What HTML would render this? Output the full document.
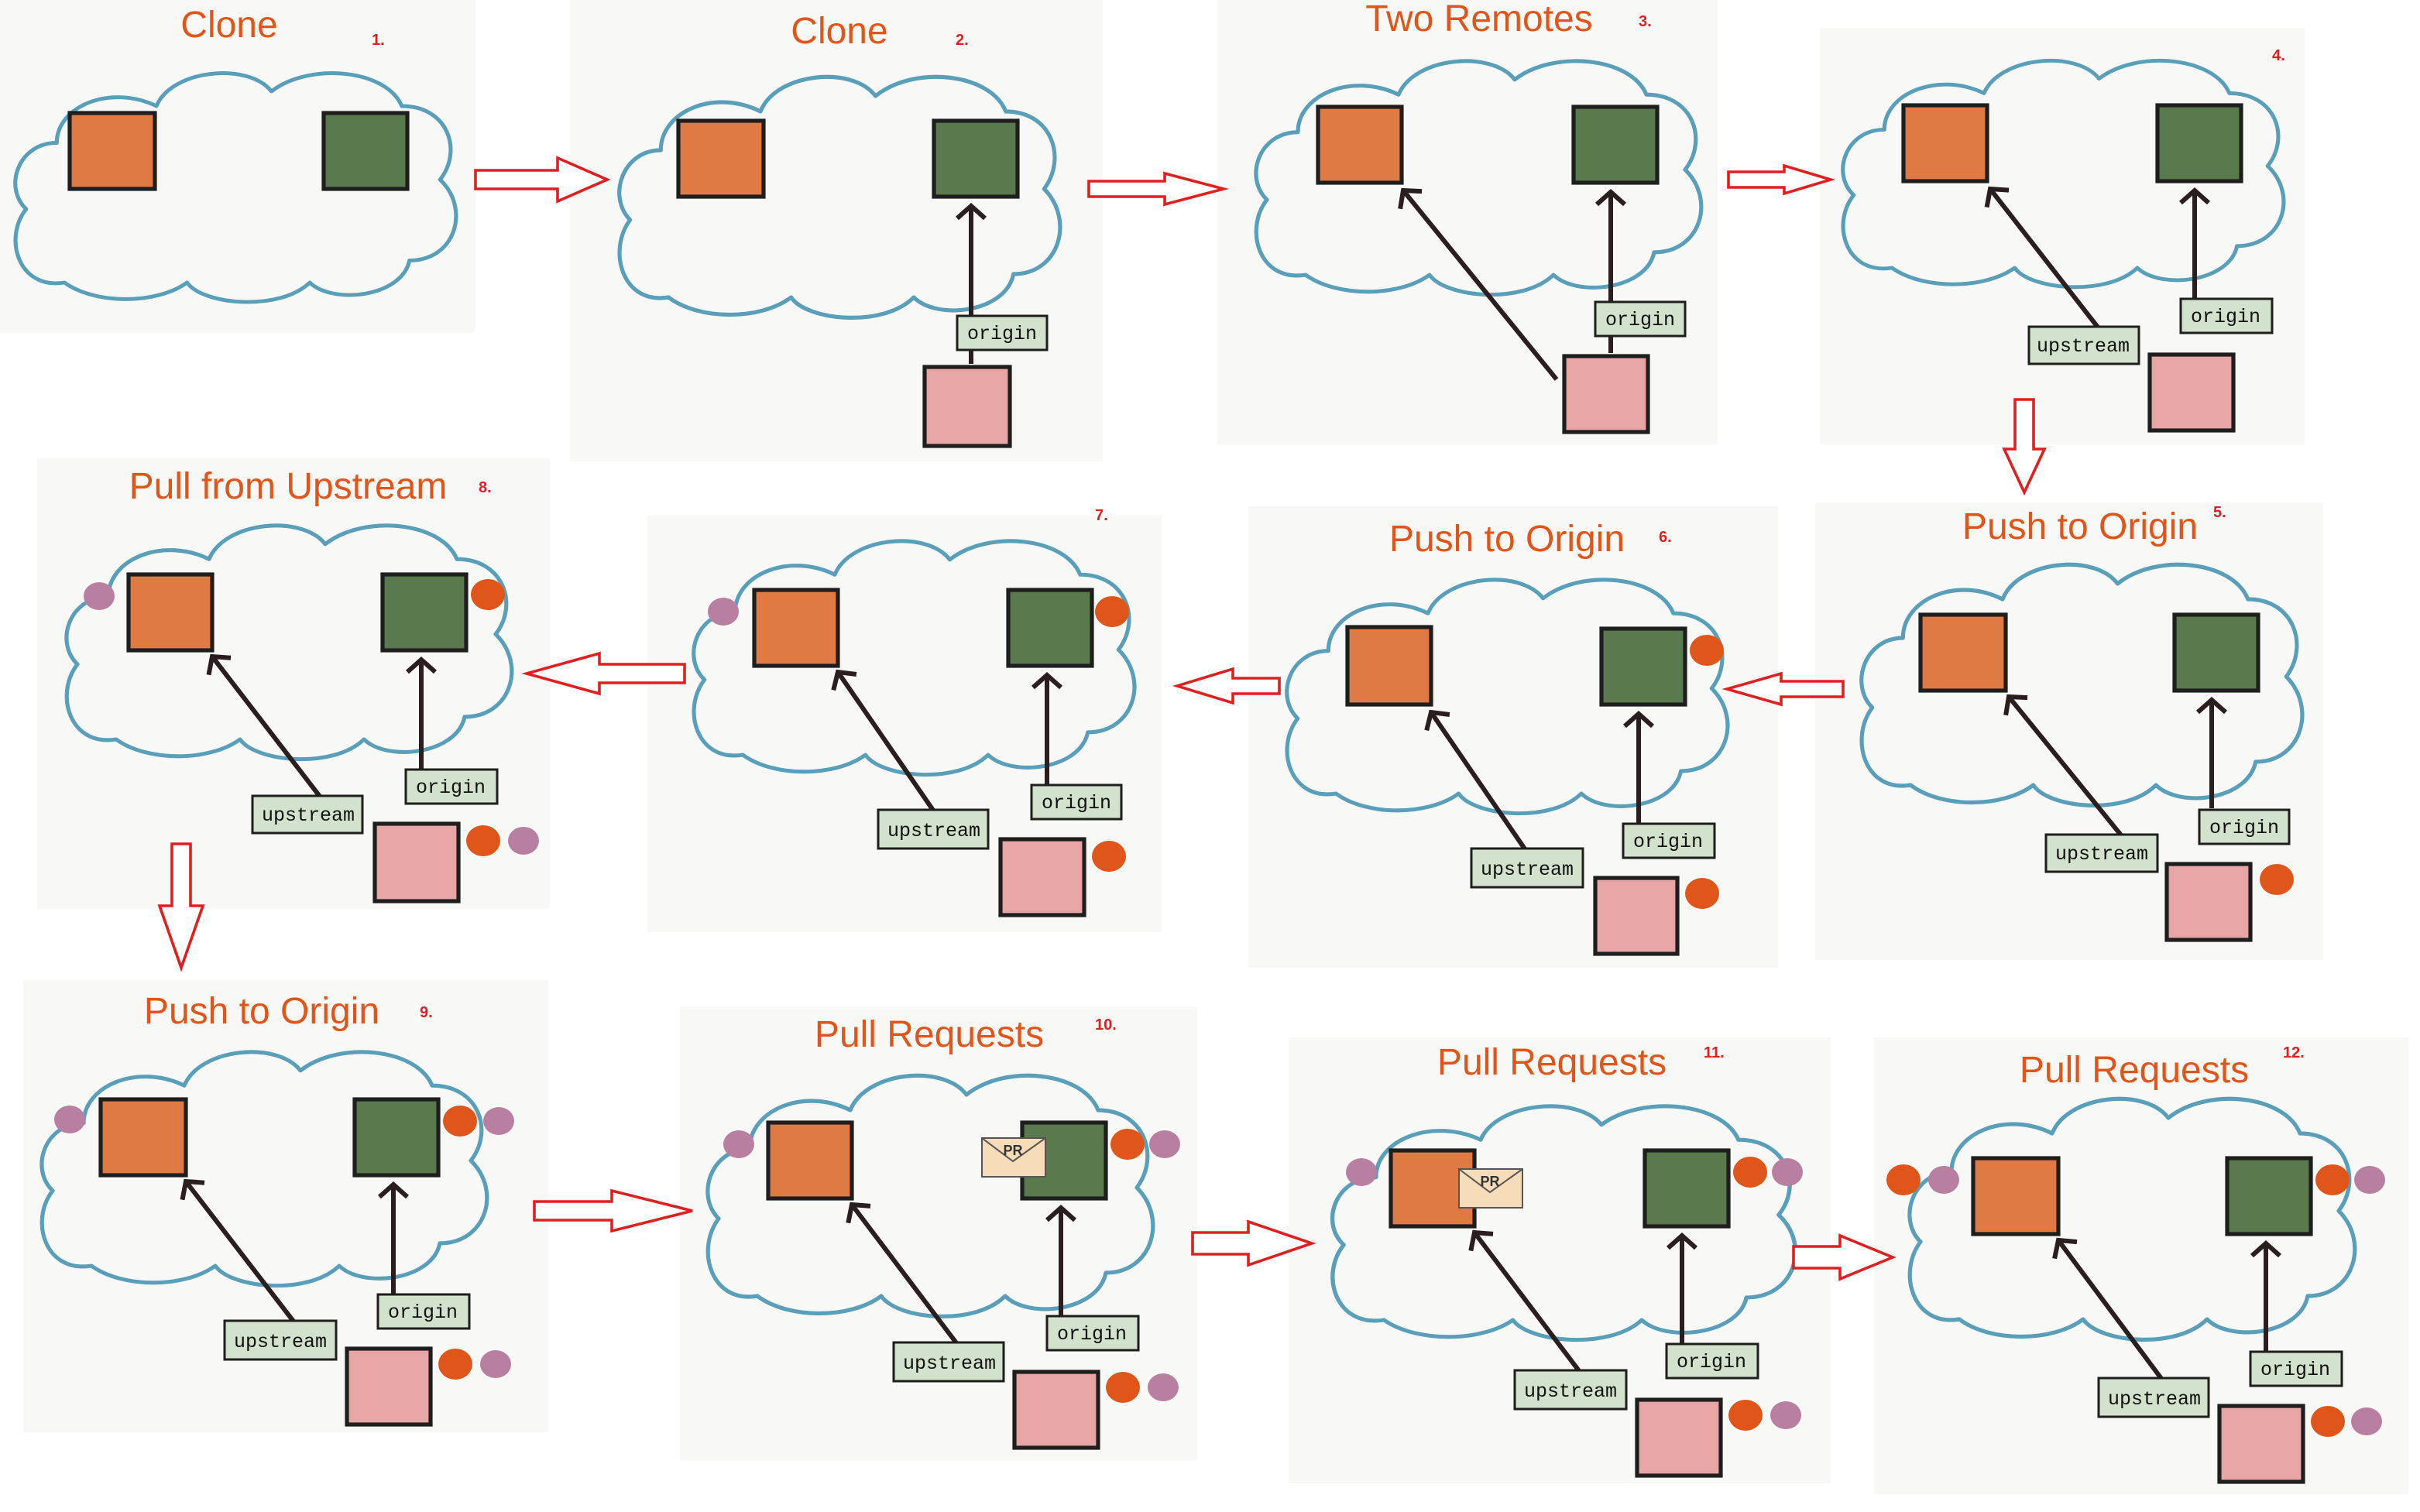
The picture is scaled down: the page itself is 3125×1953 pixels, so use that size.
<!DOCTYPE html>
<html><head><meta charset="utf-8"><style>
html,body{margin:0;padding:0;background:#fff;width:3125px;height:1953px;overflow:hidden}
svg{display:block}
.bg{fill:#f8f8f6}
.t{font-family:"Liberation Sans",sans-serif;font-size:24px;fill:#e0561a;text-anchor:middle}
.n{font-family:"Liberation Sans",sans-serif;font-size:10px;fill:#e02020;font-weight:bold}
.cl{fill:none;stroke:#5a9fba;stroke-width:2.6;stroke-linejoin:round}
.o{fill:#e07a45;stroke:#1e1e1e;stroke-width:2.6}
.g{fill:#5a7a4e;stroke:#1e1e1e;stroke-width:2.6}
.p{fill:#e8a5a5;stroke:#1e1e1e;stroke-width:2.6}
.ar{stroke:#2a1e1e;stroke-width:3;fill:none;marker-end:url(#ah)}
.lb{fill:#d2e2cc;stroke:#1e1e1e;stroke-width:1.5}
.lt{font-family:"Liberation Mono",monospace;font-size:12.5px;fill:#111;text-anchor:middle}
.ra{fill:#fff;stroke:#e02020;stroke-width:1.8}
.od{fill:#e0561a}.pd{fill:#b87fa0}
.env{fill:#f6dcb8;stroke:#555;stroke-width:1}
.pr{font-family:"Liberation Sans",sans-serif;font-size:9px;font-weight:bold;fill:#333;text-anchor:middle}
</style></head><body>
<svg width="3125" height="1953" viewBox="0 0 1562.5 976.5" xmlns="http://www.w3.org/2000/svg">
<defs>
<path id="cloud" d="M40,150 C10,155 0,120 15,100 C0,85 10,55 35,55 C35,30 70,15 100,30 C110,5 160,0 175,20 C200,0 250,5 260,30 C290,30 300,60 285,80 C305,100 295,135 265,135 C260,160 215,165 200,150 C180,170 130,165 120,150 C100,165 60,165 40,150 Z"/>
<marker id="ah" markerWidth="8" markerHeight="8" refX="4" refY="4" orient="auto" markerUnits="userSpaceOnUse" viewBox="0 0 8 8">
<polyline points="0,0 4,4 0,8" fill="none" stroke="#2a1e1e" stroke-width="1.2"/>
</marker>
<marker id="ah2" markerWidth="22" markerHeight="22" refX="11" refY="11" orient="auto" markerUnits="userSpaceOnUse">
<polyline points="3,2 11,11 3,20" fill="none" stroke="#2a1e1e" stroke-width="3"/>
</marker>
</defs>
<style>.ar{marker-end:url(#ah2)}</style>

<!-- Panel 1 -->
<rect class="bg" x="0" y="0" width="307" height="215"/>
<text class="t" x="148" y="24">Clone</text><text class="n" x="240" y="29">1.</text>
<use href="#cloud" class="cl" transform="translate(2,40) scale(0.99,0.95)"/>
<rect class="o" x="45" y="73" width="55" height="49"/>
<rect class="g" x="209" y="73" width="54" height="49"/>

<!-- Panel 2 -->
<rect class="bg" x="368" y="0" width="344" height="298"/>
<text class="t" x="542" y="28">Clone</text><text class="n" x="617" y="29">2.</text>
<use href="#cloud" class="cl" transform="translate(392,42) scale(0.99,1)"/>
<rect class="o" x="438" y="78" width="55" height="49"/>
<rect class="g" x="603" y="78" width="54" height="49"/>
<line class="ar" x1="627" y1="235" x2="627" y2="133"/>
<rect class="lb" x="618" y="204" width="58" height="22"/><text class="lt" x="647" y="219">origin</text>
<rect class="p" x="597" y="237" width="55" height="51"/>

<!-- Panel 3 -->
<rect class="bg" x="786" y="0" width="323" height="287"/>
<text class="t" x="955" y="20">Two Remotes</text><text class="n" x="1058" y="17">3.</text>
<use href="#cloud" class="cl" transform="translate(803,32) scale(1,0.97)"/>
<rect class="o" x="851" y="69" width="54" height="49"/>
<rect class="g" x="1016" y="69" width="54" height="49"/>
<line class="ar" x1="1040" y1="228" x2="1040" y2="124"/>
<line class="ar" x1="1005" y1="245" x2="906" y2="123"/>
<rect class="lb" x="1030" y="195" width="58" height="22"/><text class="lt" x="1059" y="210">origin</text>
<rect class="p" x="1010" y="230" width="54" height="49"/>

<!-- Panel 4 -->
<rect class="bg" x="1175" y="18" width="313" height="269"/>
<text class="n" x="1467" y="39">4.</text>
<use href="#cloud" class="cl" transform="translate(1182,32) scale(0.99,0.94)"/>
<rect class="o" x="1229" y="68" width="54" height="49"/>
<rect class="g" x="1393" y="68" width="54" height="49"/>
<line class="ar" x1="1417" y1="196" x2="1417" y2="123"/>
<line class="ar" x1="1355" y1="212" x2="1285" y2="122"/>
<rect class="lb" x="1408" y="193" width="59" height="22"/><text class="lt" x="1437" y="208">origin</text>
<rect class="lb" x="1310" y="211" width="71" height="24"/><text class="lt" x="1345" y="227">upstream</text>
<rect class="p" x="1388" y="229" width="54" height="49"/>

<!-- Panel 5 -->
<rect class="bg" x="1172" y="325" width="328" height="295"/>
<text class="t" x="1343" y="348">Push to Origin</text><text class="n" x="1429" y="334">5.</text>
<use href="#cloud" class="cl" transform="translate(1194,357) scale(0.99,1)"/>
<rect class="o" x="1240" y="397" width="55" height="49"/>
<rect class="g" x="1404" y="397" width="54" height="49"/>
<line class="ar" x1="1428" y1="522" x2="1428" y2="452"/>
<line class="ar" x1="1370" y1="540" x2="1297" y2="450"/>
<rect class="lb" x="1420" y="523" width="58" height="22"/><text class="lt" x="1449" y="538">origin</text>
<rect class="lb" x="1321" y="539" width="72" height="24"/><text class="lt" x="1357" y="555">upstream</text>
<rect class="p" x="1399" y="558" width="54" height="49"/>
<ellipse class="od" cx="1470" cy="568" rx="11" ry="10"/>

<!-- Panel 6 -->
<rect class="bg" x="806" y="327" width="342" height="298"/>
<text class="t" x="973" y="356">Push to Origin</text><text class="n" x="1071" y="350">6.</text>
<use href="#cloud" class="cl" transform="translate(823,367) scale(0.99,0.97)"/>
<rect class="o" x="870" y="405" width="54" height="50"/>
<rect class="g" x="1034" y="406" width="54" height="49"/>
<ellipse class="od" cx="1102" cy="420" rx="11" ry="10"/>
<line class="ar" x1="1058" y1="534" x2="1058" y2="461"/>
<line class="ar" x1="985" y1="549" x2="924" y2="460"/>
<rect class="lb" x="1048" y="532" width="59" height="22"/><text class="lt" x="1077" y="547">origin</text>
<rect class="lb" x="950" y="548" width="72" height="25"/><text class="lt" x="986" y="565">upstream</text>
<rect class="p" x="1030" y="567" width="53" height="49"/>
<ellipse class="od" cx="1099" cy="577" rx="11" ry="10"/>

<!-- Panel 7 -->
<rect class="bg" x="418" y="333" width="332" height="269"/>
<text class="n" x="707" y="336">7.</text>
<use href="#cloud" class="cl" transform="translate(440,342) scale(0.99,0.97)"/>
<ellipse class="pd" cx="467" cy="395" rx="10" ry="9"/>
<rect class="o" x="487" y="381" width="54" height="49"/>
<rect class="g" x="651" y="381" width="54" height="49"/>
<ellipse class="od" cx="718" cy="395" rx="11" ry="10"/>
<line class="ar" x1="676" y1="509" x2="676" y2="436"/>
<line class="ar" x1="603" y1="524" x2="541" y2="434"/>
<rect class="lb" x="666" y="507" width="58" height="22"/><text class="lt" x="695" y="522">origin</text>
<rect class="lb" x="567" y="523" width="71" height="25"/><text class="lt" x="603" y="540">upstream</text>
<rect class="p" x="646" y="542" width="54" height="49"/>
<ellipse class="od" cx="716" cy="553" rx="11" ry="10"/>

<!-- Panel 8 -->
<rect class="bg" x="24" y="296" width="331" height="291"/>
<text class="t" x="186" y="322">Pull from Upstream</text><text class="n" x="309" y="318">8.</text>
<use href="#cloud" class="cl" transform="translate(35,332) scale(1,0.97)"/>
<ellipse class="pd" cx="64" cy="385" rx="10" ry="9"/>
<rect class="o" x="83" y="371" width="54" height="49"/>
<rect class="g" x="247" y="371" width="54" height="49"/>
<ellipse class="od" cx="315" cy="384" rx="11" ry="10"/>
<line class="ar" x1="272" y1="499" x2="272" y2="426"/>
<line class="ar" x1="207" y1="515" x2="137" y2="424"/>
<rect class="lb" x="262" y="497" width="59" height="22"/><text class="lt" x="291" y="512">origin</text>
<rect class="lb" x="163" y="514" width="71" height="24"/><text class="lt" x="199" y="530">upstream</text>
<rect class="p" x="242" y="532" width="54" height="50"/>
<ellipse class="od" cx="312" cy="543" rx="11" ry="10"/>
<ellipse class="pd" cx="338" cy="543" rx="10" ry="9"/>

<!-- Panel 9 -->
<rect class="bg" x="15" y="633" width="339" height="292"/>
<text class="t" x="169" y="661">Push to Origin</text><text class="n" x="271" y="657">9.</text>
<use href="#cloud" class="cl" transform="translate(19,672) scale(1,0.97)"/>
<ellipse class="pd" cx="45" cy="723" rx="10" ry="9"/>
<rect class="o" x="65" y="710" width="55" height="49"/>
<rect class="g" x="229" y="710" width="54" height="49"/>
<ellipse class="od" cx="297" cy="724" rx="11" ry="10"/>
<ellipse class="pd" cx="322" cy="724" rx="10" ry="9"/>
<line class="ar" x1="254" y1="838" x2="254" y2="765"/>
<line class="ar" x1="190" y1="854" x2="120" y2="763"/>
<rect class="lb" x="244" y="836" width="59" height="22"/><text class="lt" x="273" y="851">origin</text>
<rect class="lb" x="145" y="853" width="72" height="25"/><text class="lt" x="181" y="870">upstream</text>
<rect class="p" x="224" y="871" width="54" height="49"/>
<ellipse class="od" cx="294" cy="881" rx="11" ry="10"/>
<ellipse class="pd" cx="320" cy="881" rx="10" ry="9"/>

<!-- Panel 10 -->
<rect class="bg" x="439" y="650" width="334" height="293"/>
<text class="t" x="600" y="676">Pull Requests</text><text class="n" x="707" y="665">10.</text>
<use href="#cloud" class="cl" transform="translate(449,687) scale(1,1)"/>
<ellipse class="pd" cx="477" cy="739" rx="10" ry="9"/>
<rect class="o" x="496" y="725" width="54" height="49"/>
<rect class="g" x="660" y="725" width="54" height="49"/>
<rect class="env" x="634" y="735" width="41" height="25"/><polyline points="634,735 654,750 675,735" fill="none" stroke="#555"/><text class="pr" x="654" y="746">PR</text>
<ellipse class="od" cx="728" cy="739" rx="11" ry="10"/>
<ellipse class="pd" cx="752" cy="739" rx="10" ry="9"/>
<line class="ar" x1="685" y1="852" x2="685" y2="780"/>
<line class="ar" x1="618" y1="868" x2="550" y2="778"/>
<rect class="lb" x="676" y="850" width="59" height="22"/><text class="lt" x="705" y="865">origin</text>
<rect class="lb" x="577" y="867" width="71" height="25"/><text class="lt" x="613" y="884">upstream</text>
<rect class="p" x="655" y="886" width="54" height="49"/>
<ellipse class="od" cx="725" cy="896" rx="11" ry="10"/>
<ellipse class="pd" cx="751" cy="896" rx="10" ry="9"/>

<!-- Panel 11 -->
<rect class="bg" x="832" y="670" width="350" height="288"/>
<text class="t" x="1002" y="694">Pull Requests</text><text class="n" x="1100" y="683">11.</text>
<use href="#cloud" class="cl" transform="translate(852,707) scale(1.04,0.97)"/>
<ellipse class="pd" cx="879" cy="757" rx="10" ry="9"/>
<rect class="o" x="898" y="743" width="54" height="49"/>
<rect class="env" x="942" y="755" width="41" height="25"/><polyline points="942,755 962,770 983,755" fill="none" stroke="#555"/><text class="pr" x="962" y="766">PR</text>
<rect class="g" x="1062" y="743" width="54" height="49"/>
<ellipse class="od" cx="1130" cy="757" rx="11" ry="10"/>
<ellipse class="pd" cx="1154" cy="757" rx="10" ry="9"/>
<line class="ar" x1="1086" y1="870" x2="1086" y2="798"/>
<line class="ar" x1="1020" y1="886" x2="952" y2="796"/>
<rect class="lb" x="1076" y="868" width="59" height="22"/><text class="lt" x="1105" y="883">origin</text>
<rect class="lb" x="978" y="885" width="72" height="25"/><text class="lt" x="1014" y="902">upstream</text>
<rect class="p" x="1057" y="904" width="54" height="49"/>
<ellipse class="od" cx="1127" cy="914" rx="11" ry="10"/>
<ellipse class="pd" cx="1153" cy="914" rx="10" ry="9"/>

<!-- Panel 12 -->
<rect class="bg" x="1210" y="670" width="345" height="295"/>
<text class="t" x="1378" y="699">Pull Requests</text><text class="n" x="1474" y="683">12.</text>
<use href="#cloud" class="cl" transform="translate(1225,702) scale(1,1)"/>
<ellipse class="od" cx="1229" cy="762" rx="11" ry="10"/>
<ellipse class="pd" cx="1255" cy="762" rx="10" ry="9"/>
<rect class="o" x="1274" y="748" width="55" height="49"/>
<rect class="g" x="1438" y="748" width="54" height="49"/>
<ellipse class="od" cx="1506" cy="762" rx="11" ry="10"/>
<ellipse class="pd" cx="1530" cy="762" rx="10" ry="9"/>
<line class="ar" x1="1463" y1="875" x2="1463" y2="803"/>
<line class="ar" x1="1396" y1="891" x2="1329" y2="801"/>
<rect class="lb" x="1453" y="873" width="59" height="22"/><text class="lt" x="1482" y="888">origin</text>
<rect class="lb" x="1355" y="890" width="71" height="25"/><text class="lt" x="1391" y="907">upstream</text>
<rect class="p" x="1433" y="908" width="54" height="49"/>
<ellipse class="od" cx="1503" cy="918" rx="11" ry="10"/>
<ellipse class="pd" cx="1528" cy="918" rx="10" ry="9"/>

<!-- Red hollow arrows -->
<polygon class="ra" points="307,110 360,110 360,102 392,116 360,130 360,122 307,122"/>
<polygon class="ra" points="703,117 752,117 752,112 790,122 752,132 752,127 703,127"/>
<polygon class="ra" points="1116,111 1152,111 1152,107 1182,116 1152,125 1152,121 1116,121"/>
<polygon class="ra" points="1301,258 1313,258 1313,290 1320,290 1307,318 1294,290 1301,290"/>
<polygon class="ra" points="1190,440 1150,440 1150,435 1115,445 1150,455 1150,450 1190,450"/>
<polygon class="ra" points="826,438 796,438 796,432 760,443 796,454 796,448 826,448"/>
<polygon class="ra" points="442,429 387,429 387,422 340,435 387,448 387,441 442,441"/>
<polygon class="ra" points="111,545 123,545 123,585 131,585 117,625 103,585 111,585"/>
<polygon class="ra" points="345,776 395,776 395,769 447,782 395,795 395,788 345,788"/>
<polygon class="ra" points="770,796 806,796 806,789 847,803 806,817 806,810 770,810"/>
<polygon class="ra" points="1158,805 1188,805 1188,798 1222,812 1188,826 1188,819 1158,819"/>
</svg>
</body></html>
